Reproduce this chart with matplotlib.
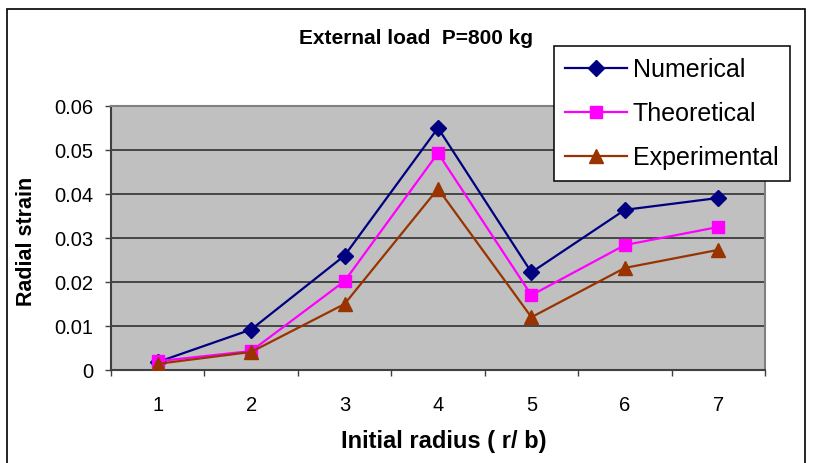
import matplotlib
matplotlib.use("Agg")
import matplotlib.pyplot as plt
from matplotlib.patches import Rectangle

categories = [1, 2, 3, 4, 5, 6, 7]
numerical = [0.0018, 0.0092, 0.0260, 0.0550, 0.0222, 0.0364, 0.0391]
theoretical = [0.0020, 0.0043, 0.0202, 0.0493, 0.0170, 0.0284, 0.0325]
experimental = [0.0014, 0.0041, 0.0150, 0.0412, 0.0120, 0.0232, 0.0273]
yticks = [0, 0.01, 0.02, 0.03, 0.04, 0.05, 0.06]
ytick_labels = ["0", "0.01", "0.02", "0.03", "0.04", "0.05", "0.06"]

plt.rcParams['font.family'] = ['Liberation Sans', 'DejaVu Sans']

W, H = 813, 464
fig = plt.figure(figsize=(W / 100, H / 100), dpi=100)
fig.patch.set_facecolor('white')

# outer chart border
fig.patches.append(Rectangle((7 / W, -0.05), (805 - 7) / W, (H - 10) / H + 0.05,
                             transform=fig.transFigure, fill=False,
                             edgecolor='black', linewidth=1.2, clip_on=False))

ax = fig.add_axes([111 / W, (H - 371) / H, (765 - 111) / W, (371 - 107) / H])
ax.set_facecolor('#C0C0C0')

ax.set_xlim(0.5, 7.5)
ax.set_ylim(0, 0.06)
ax.set_yticks(yticks)
ax.set_yticklabels(ytick_labels, fontsize=14.5)
ax.set_xticks(categories)
ax.set_xticklabels([str(c) for c in categories], fontsize=14.5)
ax.set_xticks([c + 0.5 for c in [0] + categories], minor=True)
ax.tick_params(axis='x', which='major', length=0, pad=18)
ax.tick_params(axis='x', which='minor', length=4.3, width=1, color='#404040', direction='out')
ax.tick_params(axis='y', length=4.3, width=1, color='#404040', direction='out', pad=8.5)

ax.yaxis.grid(True, color='#303030', linewidth=1.2)
ax.set_axisbelow(True)
for s in ['top', 'right']:
    ax.spines[s].set_color('#808080')
    ax.spines[s].set_linewidth(1.5)
for s in ['left', 'bottom']:
    ax.spines[s].set_color('#404040')
    ax.spines[s].set_linewidth(1.5)

ax.plot(categories, numerical, color='#000080', lw=1.6, marker='D', ms=8,
        markeredgecolor='#000080', markerfacecolor='#000080', label='Numerical', zorder=3)
ax.plot(categories, theoretical, color='#FF00FF', lw=1.6, marker='s', ms=8.5,
        markeredgecolor='#FF00FF', markerfacecolor='#FF00FF', label='Theoretical', zorder=3)
ax.plot(categories, experimental, color='#993300', lw=1.6, marker='^', ms=10,
        markeredgecolor='#993300', markerfacecolor='#993300', label='Experimental', zorder=3)

fig.text(416 / W, 1 - 38 / H, 'External load  P=800 kg', ha='center', va='center',
         fontsize=15, fontweight='bold')
fig.text(444 / W, 1 - 442 / H, 'Initial radius ( r/ b)', ha='center', va='center',
         fontsize=17, fontweight='bold')
fig.text(27 / W, 1 - 241 / H, 'Radial strain', ha='center', va='center', rotation=90,
         fontsize=15.5, fontweight='bold')

leg = fig.legend(loc='upper left', bbox_to_anchor=(554 / W, 1 - 47 / H),
                 bbox_transform=fig.transFigure, fontsize=18, frameon=True,
                 fancybox=False, shadow=False, borderpad=0.45, handlelength=2.45,
                 handletextpad=0.25, labelspacing=0.8, borderaxespad=0)
leg.get_frame().set_edgecolor('black')
leg.get_frame().set_linewidth(1.1)
leg.get_frame().set_facecolor('white')
leg.get_frame().set_alpha(1)

fig.savefig('out.png', dpi=100)
